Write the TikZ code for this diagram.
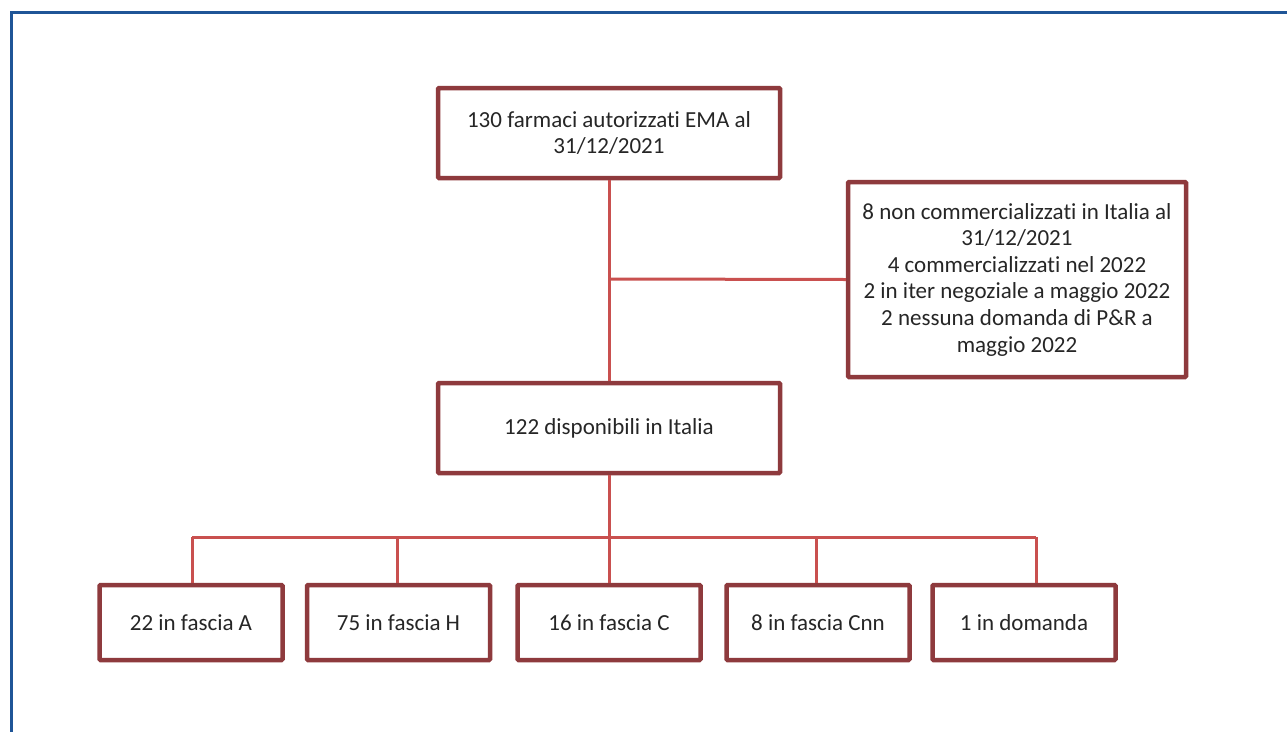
\documentclass[tikz,border=0pt]{standalone}
\usepackage{fontspec}
\setmainfont{Carlito}[Ligatures=NoCommon]
\definecolor{boxred}{HTML}{8E3A3D}
\definecolor{linered}{HTML}{C9504F}
\definecolor{frameblue}{HTML}{1F5597}
\definecolor{txt}{HTML}{262626}
\begin{document}
\begin{tikzpicture}[x=1pt,y=-1pt,
  stepbox/.style={draw=boxred,line width=4.5pt,fill=white,rounded corners=1pt,
    text=txt,align=center,inner sep=0pt,
    font=\fontsize{23}{26.6}\selectfont},
  bigbox/.style={stepbox,minimum width=342pt,minimum height=90pt},
  smallbox/.style={stepbox,minimum width=183pt,minimum height=75pt},
  conn/.style={draw=linered,line width=3pt}]
\useasboundingbox (0,0) rectangle (1287,731);
\fill[white] (0,0) rectangle (1287,731);
\draw[frameblue,line width=3pt] (11,740) -- (11,12) -- (1295,12);

\node[bigbox] (top) at (609,133) {130 farmaci autorizzati EMA al\\31/12/2021};
\node[stepbox,minimum width=338pt,minimum height=195pt] (right) at (1017,279.5)
  {8 non commercializzati in Italia al\\31/12/2021\\4 commercializzati nel 2022\\2 in iter negoziale a maggio 2022\\2 nessuna domanda di P\&R a\\maggio 2022};
\node[bigbox] (mid) at (609,428) {122 disponibili in Italia};

\node[smallbox] (a) at (191,622.5) {22 in fascia A};
\node[smallbox] (h) at (398.5,622.5) {75 in fascia H};
\node[smallbox] (c) at (609,622.5) {16 in fascia C};
\node[smallbox] (n) at (818,622.5) {8 in fascia Cnn};
\node[smallbox] (d) at (1024,622.5) {1 in domanda};

\coordinate (j) at (609,279);
\coordinate (ha) at (192,537);
\coordinate (hh) at (397,537);
\coordinate (hn) at (816,537);
\coordinate (hd) at (1036,537);

\draw[conn] (top.south) -- (mid.north);
\draw[conn] (j) -- (right.west);
\draw[conn] (mid.south) -- (c.north);
\draw[conn] (ha) -- (hd);
\draw[conn] (ha) -- (a.north -| ha);
\draw[conn] (hh) -- (h.north -| hh);
\draw[conn] (hn) -- (n.north -| hn);
\draw[conn] (hd) -- (d.north -| hd);
\end{tikzpicture}
\end{document}
